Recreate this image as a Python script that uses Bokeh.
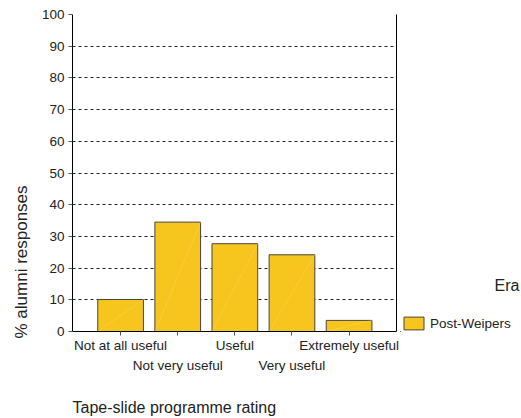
from bokeh.plotting import figure
from bokeh.layouts import row
from bokeh.models import (ColumnDataSource, FixedTicker, LinearAxis, Label, Legend,
                          LegendItem, Range1d, Title)
from bokeh.embed import file_html
from bokeh.resources import INLINE

categories = ["Not at all useful", "Not very useful", "Useful", "Very useful", "Extremely useful"]
values = [10.1, 34.5, 27.7, 24.2, 3.5]
series_name = "Post-Weipers"
legend_title = "Era"
x_title = "Tape-slide programme rating"
y_title = "% alumni responses"
y_ticks = [0, 10, 20, 30, 40, 50, 60, 70, 80, 90, 100]

xs = list(range(1, len(categories) + 1))
src = ColumnDataSource(dict(
    x=xs, top=values,
    x0=[x - 0.4 for x in xs], x1=[x + 0.4 for x in xs],
    y0=[0] * len(xs),
))

FONT = "Liberation Sans"
BAR = "#F6C61E"
EDGE = "#4a4538"
TXT = "#222222"
TICK_FS = "13.5px"

p = figure(width=400, height=418, output_backend="svg", toolbar_location=None,
           x_range=Range1d(0.158, 5.83), y_range=Range1d(0, 100),
           min_border_left=72, min_border_right=4, min_border_top=14,
           min_border_bottom=87, background_fill_color="white",
           border_fill_color="white")
p.outline_line_color = None

r = p.vbar(x="x", top="top", width=0.8, source=src, fill_color=BAR,
           line_color=EDGE, line_width=1)
p.segment(x0="x0", y0="y0", x1="x1", y1="top", source=src,
          line_color="#fbe27a", line_width=0.7, line_alpha=0.45)

# axes
p.xaxis.ticker = FixedTicker(ticks=xs)
p.xaxis.major_label_overrides = {
    x: (c if i % 2 == 0 else "\n" + c) for i, (x, c) in enumerate(zip(xs, categories))
}
p.xaxis.major_tick_out = 4
p.xaxis.major_tick_in = 0
p.xaxis.minor_tick_line_color = None
p.xaxis.axis_line_color = "black"
p.xaxis.major_tick_line_color = "#555555"
p.xaxis.major_label_text_font = FONT
p.xaxis.major_label_text_font_size = TICK_FS
p.xaxis.major_label_text_color = TXT
p.xaxis.major_label_text_line_height = 1.35
p.xaxis.major_label_standoff = 2

p.yaxis.ticker = FixedTicker(ticks=y_ticks)
p.yaxis.major_tick_out = 4
p.yaxis.major_tick_in = 0
p.yaxis.minor_tick_line_color = None
p.yaxis.axis_line_color = "black"
p.yaxis.major_tick_line_color = "#555555"
p.yaxis.major_label_text_font = FONT
p.yaxis.major_label_text_font_size = TICK_FS
p.yaxis.major_label_text_color = TXT
p.yaxis.major_label_standoff = 4

right = LinearAxis(ticker=FixedTicker(ticks=[]), major_label_text_font_size="0px",
                   axis_line_color="black", major_tick_line_color=None,
                   minor_tick_line_color=None)
p.add_layout(right, "right")

p.xgrid.grid_line_color = None
p.ygrid.grid_line_color = "#222222"
p.ygrid.grid_line_dash = "3 3"
p.ygrid.grid_line_width = 1

p.add_layout(Title(text=y_title, align="left", offset=-7, standoff=16,
                   text_font=FONT, text_font_size="17px", text_font_style="normal",
                   text_color=TXT), "left")
# leading blank line keeps the title near the bottom edge, as in the reference
p.add_layout(Title(text="\n" + x_title, align="left", offset=0, standoff=0,
                   text_font=FONT, text_font_size="16px", text_font_style="normal",
                   text_line_height=1.28, text_color=TXT), "below")

# legend panel (frame aligned with the main chart's frame)
q = figure(width=121, height=418, output_backend="svg", toolbar_location=None,
           x_range=Range1d(100, 101), y_range=Range1d(200, 201),
           min_border=0, background_fill_color="white", border_fill_color="white")
q.outline_line_color = None
q.axis.visible = False
q.grid.visible = False
proxy = q.vbar(x="x", top="top", width=0.8, source=src, fill_color=BAR, line_color=EDGE)

q.add_layout(Label(x=119, y=46, x_units="screen", y_units="screen",
                   text=legend_title, text_align="right", text_baseline="middle",
                   text_font=FONT, text_font_size="16px", text_color=TXT))
legend = Legend(items=[LegendItem(label=series_name, renderers=[proxy])],
                location=(1, 0), background_fill_alpha=0, border_line_color=None,
                label_text_font=FONT, label_text_font_size=TICK_FS,
                label_text_color=TXT, glyph_width=25, glyph_height=16,
                label_height=16, padding=0, margin=0, label_standoff=4)
q.add_layout(legend, "center")

layout = row(p, q, spacing=0)
open("out.html", "w").write(file_html(layout, INLINE))
